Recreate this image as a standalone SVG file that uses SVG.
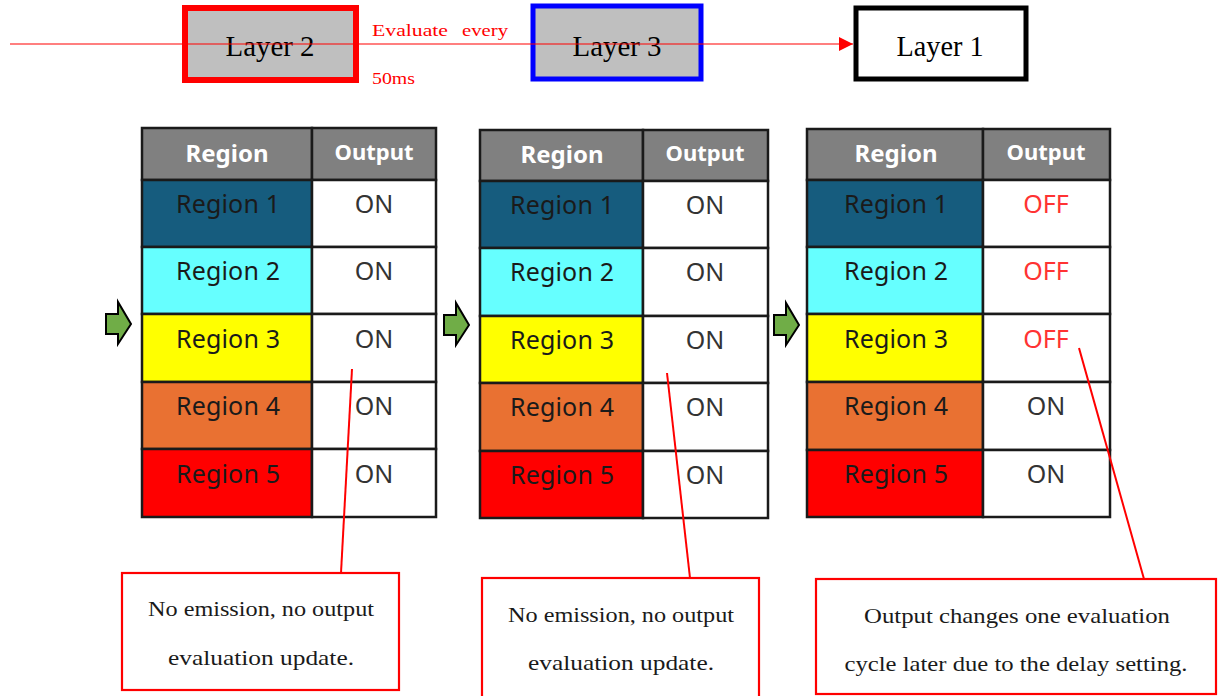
<svg xmlns="http://www.w3.org/2000/svg" width="1218" height="696" viewBox="0 0 1218 696">
<style>
.layer{font-family:"Liberation Serif",serif;font-size:30px;fill:#000;text-anchor:middle}
.eval{font-family:"Liberation Serif",serif;font-size:17px;fill:#ff0000}
.hd{font-family:"Noto Sans",sans-serif;font-weight:bold;fill:#fff;text-anchor:middle}
.rg{font-family:"Noto Sans",sans-serif;font-size:25px;fill:#1a1a1a;text-anchor:middle}
.on{font-family:"Noto Sans",sans-serif;font-size:25px;fill:#333;text-anchor:middle}
.off{font-family:"Noto Sans",sans-serif;font-size:25px;fill:#ff3333;text-anchor:middle}
.cell{stroke:#1a1a1a;stroke-width:2.5}
.garrow{fill:#70ad47;stroke:#000;stroke-width:2;stroke-linejoin:miter}
.note{fill:#fff;stroke:#ff0000;stroke-width:2.2}
.nt{font-family:"Liberation Serif",serif;font-size:21px;fill:#1a1a1a;text-anchor:middle}
.lead{stroke:#ff0000;stroke-width:2;fill:none}
</style>
<defs>
<marker id="ah" markerWidth="14" markerHeight="14" refX="14" refY="7" orient="auto" markerUnits="userSpaceOnUse">
<path d="M0,0 L14,7 L0,14 Z" fill="#ff0000"/>
</marker>
</defs>
<rect width="1218" height="696" fill="#fff"/>

<g id="layer2">
<rect x="185" y="8" width="171" height="72" fill="#bfbfbf" stroke="#ff0000" stroke-width="6"/>
<text class="layer" x="270" y="56" textLength="89" lengthAdjust="spacingAndGlyphs">Layer 2</text>
</g>
<g id="layer3">
<rect x="533" y="6" width="168" height="73" fill="#bfbfbf" stroke="#0000ff" stroke-width="5"/>
<text class="layer" x="617" y="56" textLength="89" lengthAdjust="spacingAndGlyphs">Layer 3</text>
</g>
<g id="layer1">
<rect x="856" y="8" width="170" height="71" fill="#fff" stroke="#000" stroke-width="5"/>
<text class="layer" x="940" y="56" textLength="87" lengthAdjust="spacingAndGlyphs">Layer 1</text>
</g>

<g id="eval-label">
<text class="eval" x="372" y="36" textLength="76" lengthAdjust="spacingAndGlyphs">Evaluate</text>
<text class="eval" x="462" y="36" textLength="46" lengthAdjust="spacingAndGlyphs">every</text>
<text class="eval" x="372" y="84" textLength="43" lengthAdjust="spacingAndGlyphs">50ms</text>
</g>

<g id="table1">
<rect class="cell" x="142" y="128" width="170" height="52" fill="#808080"/>
<rect class="cell" x="312" y="128" width="124" height="52" fill="#808080"/>
<text class="hd" x="227" y="162" font-size="24">Region</text>
<text class="hd" x="374" y="160" font-size="21" textLength="79" lengthAdjust="spacingAndGlyphs">Output</text>
<rect class="cell" x="142" y="180" width="170" height="67" fill="#165c7e"/>
<rect class="cell" x="312" y="180" width="124" height="67" fill="#fff"/>
<rect class="cell" x="142" y="247" width="170" height="67" fill="#66ffff"/>
<rect class="cell" x="312" y="247" width="124" height="67" fill="#fff"/>
<rect class="cell" x="142" y="314" width="170" height="68" fill="#ffff00"/>
<rect class="cell" x="312" y="314" width="124" height="68" fill="#fff"/>
<rect class="cell" x="142" y="382" width="170" height="67" fill="#e97132"/>
<rect class="cell" x="312" y="382" width="124" height="67" fill="#fff"/>
<rect class="cell" x="142" y="449" width="170" height="68" fill="#ff0000"/>
<rect class="cell" x="312" y="449" width="124" height="68" fill="#fff"/>
<text class="rg" x="228" y="213" textLength="104">Region 1</text><text class="on" x="374" y="213">ON</text>
<text class="rg" x="228" y="280" textLength="104">Region 2</text><text class="on" x="374" y="280">ON</text>
<text class="rg" x="228" y="348" textLength="104">Region 3</text><text class="on" x="374" y="348">ON</text>
<text class="rg" x="228" y="415" textLength="104">Region 4</text><text class="on" x="374" y="415">ON</text>
<text class="rg" x="228" y="483" textLength="104">Region 5</text><text class="on" x="374" y="483">ON</text>
</g>

<g id="table2">
<rect class="cell" x="480" y="130" width="163" height="51" fill="#808080"/>
<rect class="cell" x="643" y="130" width="125" height="51" fill="#808080"/>
<text class="hd" x="562" y="163" font-size="24">Region</text>
<text class="hd" x="705" y="161" font-size="21" textLength="79" lengthAdjust="spacingAndGlyphs">Output</text>
<rect class="cell" x="480" y="181" width="163" height="67" fill="#165c7e"/>
<rect class="cell" x="643" y="181" width="125" height="67" fill="#fff"/>
<rect class="cell" x="480" y="248" width="163" height="68" fill="#66ffff"/>
<rect class="cell" x="643" y="248" width="125" height="68" fill="#fff"/>
<rect class="cell" x="480" y="316" width="163" height="67" fill="#ffff00"/>
<rect class="cell" x="643" y="316" width="125" height="67" fill="#fff"/>
<rect class="cell" x="480" y="383" width="163" height="68" fill="#e97132"/>
<rect class="cell" x="643" y="383" width="125" height="68" fill="#fff"/>
<rect class="cell" x="480" y="451" width="163" height="67" fill="#ff0000"/>
<rect class="cell" x="643" y="451" width="125" height="67" fill="#fff"/>
<text class="rg" x="562" y="214" textLength="104">Region 1</text><text class="on" x="705" y="214">ON</text>
<text class="rg" x="562" y="281" textLength="104">Region 2</text><text class="on" x="705" y="281">ON</text>
<text class="rg" x="562" y="349" textLength="104">Region 3</text><text class="on" x="705" y="349">ON</text>
<text class="rg" x="562" y="416" textLength="104">Region 4</text><text class="on" x="705" y="416">ON</text>
<text class="rg" x="562" y="484" textLength="104">Region 5</text><text class="on" x="705" y="484">ON</text>
</g>

<g id="table3">
<rect class="cell" x="807" y="129" width="176" height="51" fill="#808080"/>
<rect class="cell" x="983" y="129" width="127" height="51" fill="#808080"/>
<text class="hd" x="896" y="162" font-size="24">Region</text>
<text class="hd" x="1046" y="160" font-size="21" textLength="79" lengthAdjust="spacingAndGlyphs">Output</text>
<rect class="cell" x="807" y="180" width="176" height="67" fill="#165c7e"/>
<rect class="cell" x="983" y="180" width="127" height="67" fill="#fff"/>
<rect class="cell" x="807" y="247" width="176" height="67" fill="#66ffff"/>
<rect class="cell" x="983" y="247" width="127" height="67" fill="#fff"/>
<rect class="cell" x="807" y="314" width="176" height="68" fill="#ffff00"/>
<rect class="cell" x="983" y="314" width="127" height="68" fill="#fff"/>
<rect class="cell" x="807" y="382" width="176" height="68" fill="#e97132"/>
<rect class="cell" x="983" y="382" width="127" height="68" fill="#fff"/>
<rect class="cell" x="807" y="450" width="176" height="67" fill="#ff0000"/>
<rect class="cell" x="983" y="450" width="127" height="67" fill="#fff"/>
<text class="rg" x="896" y="213" textLength="104">Region 1</text><text class="off" x="1046" y="213">OFF</text>
<text class="rg" x="896" y="280" textLength="104">Region 2</text><text class="off" x="1046" y="280">OFF</text>
<text class="rg" x="896" y="348" textLength="104">Region 3</text><text class="off" x="1046" y="348">OFF</text>
<text class="rg" x="896" y="415" textLength="104">Region 4</text><text class="on" x="1046" y="415">ON</text>
<text class="rg" x="896" y="483" textLength="104">Region 5</text><text class="on" x="1046" y="483">ON</text>
</g>

<g id="arrow1"><path class="garrow" d="M106,314 L118,314 L118,302 L131,324 L118,344 L118,334 L106,334 Z"/></g>
<g id="arrow2"><path class="garrow" d="M444,315 L456,315 L456,303 L469,325 L456,345 L456,335 L444,335 Z"/></g>
<g id="arrow3"><path class="garrow" d="M774,315 L786,315 L786,303 L799,325 L786,345 L786,335 L774,335 Z"/></g>

<g id="note1">
<rect class="note" x="122" y="573" width="277" height="117"/>
<text class="nt" x="261" y="616" textLength="226" lengthAdjust="spacingAndGlyphs">No emission, no output</text>
<text class="nt" x="261" y="665" textLength="186" lengthAdjust="spacingAndGlyphs">evaluation update.</text>
</g>
<g id="note2">
<rect class="note" x="482" y="578" width="277" height="120"/>
<text class="nt" x="621" y="622" textLength="226" lengthAdjust="spacingAndGlyphs">No emission, no output</text>
<text class="nt" x="621" y="670" textLength="186" lengthAdjust="spacingAndGlyphs">evaluation update.</text>
</g>
<g id="note3">
<rect class="note" x="816" y="579" width="400" height="115"/>
<text class="nt" x="1017" y="623" textLength="306" lengthAdjust="spacingAndGlyphs">Output changes one evaluation</text>
<text class="nt" x="1016" y="671" textLength="343" lengthAdjust="spacingAndGlyphs">cycle later due to the delay setting.</text>
</g>

<g id="connectors">
<line x1="10" y1="44" x2="853" y2="44" stroke="#ff0000" stroke-width="1.2" marker-end="url(#ah)"/>
<line class="lead" x1="352" y1="369" x2="341" y2="573"/>
<line class="lead" x1="667" y1="373" x2="690" y2="578"/>
<line class="lead" x1="1079" y1="348" x2="1144" y2="579"/>
</g>
</svg>
